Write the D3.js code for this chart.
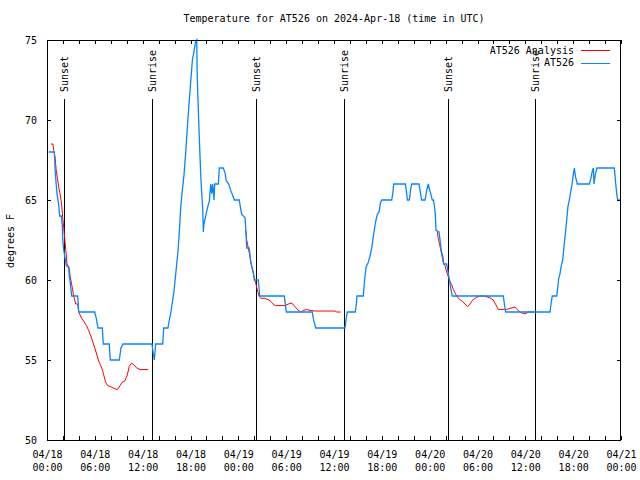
<!DOCTYPE html>
<html><head><meta charset="utf-8">
<script src="https://cdn.jsdelivr.net/npm/d3@7"></script>
<style>
html,body{margin:0;padding:0;background:#fff;}
svg{display:block;}
text{font-family:"DejaVu Sans Mono",monospace;font-size:10px;fill:#000;}
</style></head><body>
<svg id="c" width="640" height="480"></svg>
<script>
// ---- data (hours since 04/18 00:00 UTC) ----
const obsHours = [
 0.21,0.92,1.04,1.25,1.47,1.59,1.79,1.92,1.97,2.09,2.22,2.42,2.72,2.80,2.92,3.10,3.85,3.98,
 5.98,6.18,6.40,6.94,7.06,7.81,7.94,9.07,9.28,9.53,13.17,13.30,13.46,13.63,14.51,14.64,15.17,
 15.34,15.55,15.72,15.93,16.09,16.27,16.43,16.60,16.77,16.97,17.19,17.40,17.60,17.81,18.03,18.23,18.44,18.65,18.78,
 18.85,19.03,19.15,19.28,19.40,19.53,19.61,19.69,19.86,20.03,20.23,20.36,20.53,20.66,20.78,20.95,21.03,21.49,21.61,22.11,
 22.33,22.49,22.79,23.04,23.29,23.50,24.12,24.21,24.42,24.84,24.96,25.05,25.34,25.46,25.55,25.72,25.88,26.00,26.51,26.60,26.68,
 29.77,29.86,30.02,33.28,33.40,33.70,37.38,37.54,37.67,38.67,38.80,38.89,39.68,
 39.80,40.02,40.30,40.52,40.73,40.93,41.11,41.27,41.43,41.68,41.81,41.99,43.24,43.37,43.49,44.95,
 45.12,45.20,45.45,45.62,45.75,46.66,46.79,47.00,47.42,47.63,47.83,47.95,48.13,48.33,48.46,
 48.58,48.71,48.80,49.17,49.30,49.46,49.64,49.76,50.14,50.34,50.51,50.68,50.84,57.24,57.37,57.54,
 63.10,63.22,63.38,63.94,64.06,64.19,64.35,64.51,64.69,64.85,65.02,65.19,65.35,65.52,65.69,65.86,66.02,66.15,66.27,66.52,
 68.03,68.20,68.40,68.53,68.61,68.78,68.99,71.16,71.34,71.46,71.59,72.0
];
const obsTemps = [
 68,68,66.7,65.4,64.7,64,64,63.4,62.6,61.9,61.5,60.9,60.8,60.2,59.8,59,59,58,
 58,57.6,57,57,56,56,55,55,55.75,56,56,55.5,55,56,56,57,57,
 57.5,58,58.6,59.3,60.1,61,61.8,63,64.5,65.6,66.6,68,69.5,71,72.4,73.7,74.3,74.9,75,
 72.6,69.9,68.3,66.6,65.5,64.5,63,63.5,63.9,64.3,64.7,64.9,66,65.4,66,65,66,66,67,67,
 66.7,66.2,66,65.6,65.3,65,65,64.7,64.1,63.9,63,62,62,61.6,61.1,60.8,60.5,60,60,59.5,59,
 59,58.6,58,58,57.6,57,57,57.6,58,58,58.5,59,59,
 59.8,60.8,61.1,61.5,62,62.7,63.3,63.75,64.1,64.3,64.8,65,65,65.4,66,66,
 65.4,65,65,65.7,66,66,65.6,65,65,65.6,66,65.7,65.4,65,65,
 64.7,64.1,63.1,63,62.5,61.8,61.5,61,61,60.4,59.9,59.4,59,59,58.5,58,
 58,58.5,59,59,59.5,60.1,60.4,60.9,61.25,62.1,62.9,63.75,64.6,65,65.5,66,66.6,67,66.5,66,
 66,66.3,66.8,67,66,66.6,67,67,66,65.4,65,65
];
const anaHours = [
 0.50,0.75,0.84,1.00,1.17,1.34,1.51,1.67,1.84,1.97,2.09,2.22,2.35,2.51,2.76,2.92,3.14,3.35,3.60,3.85,
 3.98,4.35,4.58,4.95,5.18,5.43,5.77,6.15,6.44,6.69,6.94,7.15,7.36,7.61,8.12,8.53,8.82,9.16,9.41,9.78,
 10.07,10.32,10.62,10.91,11.25,11.67,12.71,
 18.0,
 24.92,25.05,25.25,25.43,25.59,25.75,25.97,26.18,26.38,26.59,26.81,27.35,27.56,27.85,28.19,28.47,28.69,29.85,30.48,30.73,
 31.11,31.52,31.82,32.15,32.58,32.99,33.62,36.13,36.34,36.84,
 42.0,
 48.96,49.08,49.21,49.39,49.55,49.71,49.92,50.14,50.34,50.55,50.76,50.97,51.18,51.39,51.72,52.14,52.43,52.77,53.06,53.40,
 53.81,54.31,54.82,55.16,55.66,55.98,56.32,56.61,57.66,58.07,58.70,58.99,59.33,59.75,60.08,60.37,61.0
];
const anaTemps = [
 68.5,68.5,68.1,67.7,66.8,66.25,65.7,65.3,64.7,63.9,63.3,62.6,61.9,61.0,60.8,60.2,59.6,59.0,58.5,58.5,
 58.0,57.6,57.45,57.15,56.9,56.6,56.1,55.5,55.0,54.7,54.4,54.0,53.6,53.4,53.3,53.2,53.15,53.4,53.6,53.7,
 54.06,54.6,54.8,54.7,54.5,54.4,54.4,
 null,
 63.1,62.5,62.0,61.56,61.1,60.7,60.2,59.8,59.4,59.0,58.86,58.86,58.8,58.75,58.6,58.44,58.4,58.4,58.54,58.55,
 58.33,58.1,58.0,58.1,58.16,58.1,58.06,58.06,58.0,58.0,
 null,
 63.0,62.6,62.3,61.9,61.5,61.1,60.9,60.5,60.2,59.9,59.7,59.4,59.2,59.0,58.8,58.65,58.5,58.33,58.5,58.75,
 58.9,59.0,59.0,58.95,58.86,58.75,58.44,58.16,58.16,58.23,58.3,58.16,58.0,57.9,57.9,58.0,58.0
];
const sunHours  = [2.17, 13.21, 26.25, 37.29, 50.34, 61.25];
const sunLabels = ["Sunset","Sunrise","Sunset","Sunrise","Sunset","Sunrise"];
const xTickHours = [0,6,12,18,24,30,36,42,48,54,60,66,72];
const xTickDates = ["04/18","04/18","04/18","04/18","04/19","04/19","04/19","04/19","04/20","04/20","04/20","04/20","04/21"];
const xTickTimes = ["00:00","06:00","12:00","18:00","00:00","06:00","12:00","18:00","00:00","06:00","12:00","18:00","00:00"];
const yTicks = [50,55,60,65,70,75];
const seriesNames = ["AT526 Analysis","AT526"];
const seriesColors = ["#ff0000","#0a84ff"];
const titleText = "Temperature for AT526 on 2024-Apr-18 (time in UTC)";
const yLabel = "degrees F";

// ---- layout ----
const L = 47, R = 621, T = 40, B = 440;
const svg = d3.select("#c");
const x = d3.scaleLinear().domain([0,72]).range([L,R]);
const y = d3.scaleLinear().domain([50,75]).range([B,T]);
const minorHours = d3.range(0,73,2);

// sun lines (behind data)
const sun = svg.append("g");
sun.selectAll("line").data(sunHours).join("line")
  .attr("x1", d=>Math.round(x(d))+0.5).attr("x2", d=>Math.round(x(d))+0.5)
  .attr("y1", 99).attr("y2", B)
  .attr("stroke","#000").attr("stroke-width",1).attr("shape-rendering","crispEdges");
sun.selectAll("text").data(sunHours).join("text")
  .attr("transform", d=>`translate(${Math.round(x(d))+4},92) rotate(-90)`)
  .attr("text-anchor","start")
  .text((d,i)=>sunLabels[i]);

// data lines
const obs = obsHours.map((h,i)=>[h,obsTemps[i]]);
const ana = anaHours.map((h,i)=>[h,anaTemps[i]]);
const line = d3.line().defined(d=>d[1]!==null).x(d=>x(d[0])).y(d=>y(d[1]));
svg.append("path").datum(ana).attr("d",line).attr("fill","none")
  .attr("stroke",seriesColors[0]).attr("stroke-width",1);
svg.append("path").datum(obs).attr("d",line).attr("fill","none")
  .attr("stroke",seriesColors[1]).attr("stroke-width",1.3);

// axes
const ax = svg.append("g").attr("shape-rendering","crispEdges");
ax.append("g").attr("transform",`translate(0,${B})`)
  .call(d3.axisBottom(x).tickValues(minorHours).tickSize(-4).tickSizeOuter(0).tickFormat(""));
ax.append("g").attr("transform",`translate(0,${T})`)
  .call(d3.axisTop(x).tickValues(minorHours).tickSize(-4).tickSizeOuter(0).tickFormat(""));
ax.append("g").attr("transform",`translate(${L},0)`)
  .call(d3.axisLeft(y).tickValues(yTicks).tickSize(-4).tickSizeOuter(0).tickPadding(10).tickFormat(d3.format("d")));
ax.append("g").attr("transform",`translate(${R},0)`)
  .call(d3.axisRight(y).tickValues(yTicks).tickSize(-4).tickSizeOuter(0).tickFormat(""));
ax.selectAll(".domain").remove();
ax.selectAll("line").attr("stroke","#000");
ax.selectAll("text").attr("font-family",null).attr("font-size",null).attr("dy","0.35em");

// x labels (two lines)
const xl = svg.append("g").attr("transform",`translate(0,${B})`)
  .call(d3.axisBottom(x).tickValues(xTickHours).tickSize(0).tickPadding(0).tickFormat(""));
xl.select(".domain").remove();
xl.selectAll(".tick").append("text").attr("text-anchor","middle")
  .each(function(d){
    const i = xTickHours.indexOf(d);
    const t = d3.select(this);
    t.append("tspan").attr("x",0).attr("y",18).text(xTickDates[i]);
    t.append("tspan").attr("x",0).attr("y",31).text(xTickTimes[i]);
  });

// border
svg.append("rect").attr("x",L+0.5).attr("y",T+0.5).attr("width",R-L-1).attr("height",B-T)
  .attr("fill","none").attr("stroke","#000").attr("shape-rendering","crispEdges");

// title & y label
svg.append("text").attr("x",(L+R)/2).attr("y",22).attr("text-anchor","middle").text(titleText);
svg.append("text").attr("transform","translate(14,241) rotate(-90)").attr("text-anchor","middle").text(yLabel);

// legend
const lg = svg.append("g");
seriesNames.forEach((n,i)=>{
  const yy = 50 + i*12.5;
  lg.append("text").attr("x",574).attr("y",yy).attr("dy","0.35em").attr("text-anchor","end").text(n);
  lg.append("line").attr("x1",581).attr("x2",610).attr("y1",Math.round(yy)+0.5).attr("y2",Math.round(yy)+0.5)
    .attr("stroke",seriesColors[i]).attr("stroke-width",1);
});
</script></body></html>
